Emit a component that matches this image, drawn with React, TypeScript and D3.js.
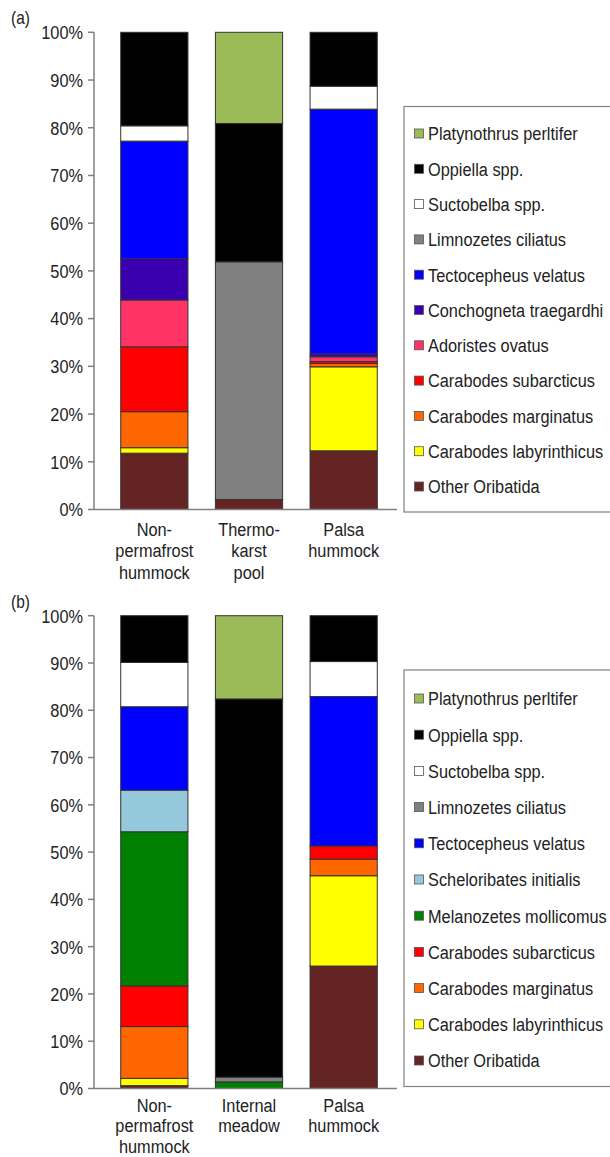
import React from "react";
import * as d3 from "d3";

const speciesA = [
  "Other Oribatida",
  "Carabodes labyrinthicus",
  "Carabodes marginatus",
  "Carabodes subarcticus",
  "Adoristes ovatus",
  "Conchogneta traegardhi",
  "Tectocepheus velatus",
  "Limnozetes ciliatus",
  "Suctobelba spp.",
  "Oppiella spp.",
  "Platynothrus perltifer",
];
const colorsA = ["#632423", "#ffff00", "#ff6600", "#ff0000", "#ff3366", "#3a00b0", "#0000ff", "#808080", "#ffffff", "#000000", "#9bbb59"];
const categoriesA = [["Non-", "permafrost", "hummock"], ["Thermo-", "karst", "pool"], ["Palsa", "hummock"]];
const valuesA = [
  [11.8, 2.1, 12.3],
  [1.15, 0, 17.6],
  [7.55, 0, 0.7],
  [13.6, 0, 0.4],
  [9.8, 0, 1.0],
  [8.7, 0, 0.6],
  [24.6, 0, 51.3],
  [0, 49.8, 0],
  [3.2, 0, 4.8],
  [19.6, 29.0, 11.3],
  [0, 19.1, 0],
];

const speciesB = [
  "Other Oribatida",
  "Carabodes labyrinthicus",
  "Carabodes marginatus",
  "Carabodes subarcticus",
  "Melanozetes mollicomus",
  "Scheloribates initialis",
  "Tectocepheus velatus",
  "Limnozetes ciliatus",
  "Suctobelba spp.",
  "Oppiella spp.",
  "Platynothrus perltifer",
];
const colorsB = ["#632423", "#ffff00", "#ff6600", "#ff0000", "#008000", "#96c8dc", "#0000ff", "#808080", "#ffffff", "#000000", "#9bbb59"];
const categoriesB = [["Non-", "permafrost", "hummock"], ["Internal", "meadow"], ["Palsa", "hummock"]];
const valuesB = [
  [0.6, 0, 25.9],
  [1.55, 0, 19.1],
  [10.95, 0, 3.5],
  [8.6, 0, 2.8],
  [32.6, 1.4, 0],
  [8.8, 0, 0],
  [17.65, 0, 31.6],
  [0, 1.0, 0],
  [9.35, 0, 7.4],
  [9.9, 80.0, 9.7],
  [0, 17.6, 0],
];

const yTicks = [0, 10, 20, 30, 40, 50, 60, 70, 80, 90, 100];

const FONT = "'Liberation Sans', Arial, Helvetica, sans-serif";
const SQUEEZE = 0.86;

function NText(props: { x: number; y: number; anchor?: string; size?: number; dy?: string; children: React.ReactNode }) {
  return (
    <text
      transform={`translate(${props.x},${props.y}) scale(${SQUEEZE},1)`}
      x={0}
      y={0}
      dy={props.dy}
      textAnchor={props.anchor || "start"}
      fontSize={props.size || 19}
      fontFamily={FONT}
      fill="#222"
    >
      {props.children}
    </text>
  );
}

type PanelProps = {
  label: string;
  top: number;
  bottom: number;
  species: string[];
  colors: string[];
  categories: string[][];
  values: number[][];
  legendTop: number;
  legendBottom: number;
  legendFirst: number;
  legendStep: number;
  catOffset: number;
  catStep: number;
};

function Panel(p: PanelProps) {
  const axisX = 94;
  const y = d3.scaleLinear().domain([0, 100]).range([p.bottom, p.top]);
  const keys = p.categories.map((_, i) => String(i));
  const x = d3.scaleBand<string>().domain(keys).range([107, 391]).paddingInner(0.29).paddingOuter(0.145);
  const rows = keys.map((k, ci) => {
    const r: Record<string, number> = {};
    p.species.forEach((s, si) => (r[s] = p.values[si][ci]));
    return r;
  });
  const stacked = d3.stack<Record<string, number>>().keys(p.species)(rows);
  const bw = x.bandwidth();
  const legendItems = p.species.map((s, i) => ({ s, c: p.colors[i] })).reverse();

  return (
    <g>
      <NText x={11} y={p.top - 8} size={18}>{p.label}</NText>
      {stacked.map((layer, si) =>
        layer.map((d, ci) => {
          if (d[1] - d[0] <= 0) return null;
          return (
            <rect
              key={`${si}-${ci}`}
              x={x(keys[ci])!}
              y={y(d[1])}
              width={bw}
              height={y(d[0]) - y(d[1])}
              fill={p.colors[si]}
              stroke="#333"
              strokeWidth={1}
            />
          );
        })
      )}
      <line x1={axisX} x2={axisX} y1={p.top} y2={p.bottom} stroke="#808080" strokeWidth={1.5} />
      <line x1={axisX} x2={397} y1={p.bottom} y2={p.bottom} stroke="#808080" strokeWidth={1.5} />
      {yTicks.map((t) => (
        <g key={t}>
          <line x1={axisX - 6} x2={axisX} y1={y(t)} y2={y(t)} stroke="#808080" strokeWidth={1.5} />
          <NText x={axisX - 11} y={y(t)} dy="0.36em" anchor="end">
            {`${t}%`}
          </NText>
        </g>
      ))}
      {p.categories.map((lines, ci) =>
        lines.map((ln, li) => (
          <NText key={`${ci}-${li}`} x={x(keys[ci])! + bw / 2} y={p.bottom + p.catOffset + li * p.catStep} anchor="middle">
            {ln}
          </NText>
        ))
      )}
      <rect x={404} y={p.legendTop} width={220} height={p.legendBottom - p.legendTop} fill="#fff" stroke="#808080" strokeWidth={1.2} />
      {legendItems.map((it, i) => {
        const cy = p.legendFirst + i * p.legendStep;
        return (
          <g key={it.s}>
            <rect x={414.5} y={cy - 4.5} width={9} height={9} fill={it.c} stroke="#555" strokeWidth={0.8} />
            <NText x={428} y={cy} dy="0.36em">
              {it.s}
            </NText>
          </g>
        );
      })}
    </g>
  );
}

export default function App() {
  return (
    <svg width={610} height={1157} style={{ position: "absolute", left: 0, top: 0, background: "#fff" }}>
      <Panel
        label="(a)"
        top={32.3}
        bottom={509.5}
        species={speciesA}
        colors={colorsA}
        categories={categoriesA}
        values={valuesA}
        legendTop={106.5}
        legendBottom={512}
        legendFirst={133.5}
        legendStep={35.3}
        catOffset={26}
        catStep={21.5}
      />
      <Panel
        label="(b)"
        top={615.7}
        bottom={1088.5}
        species={speciesB}
        colors={colorsB}
        categories={categoriesB}
        values={valuesB}
        legendTop={670}
        legendBottom={1086.5}
        legendFirst={698.5}
        legendStep={36.2}
        catOffset={23}
        catStep={20.5}
      />
    </svg>
  );
}
